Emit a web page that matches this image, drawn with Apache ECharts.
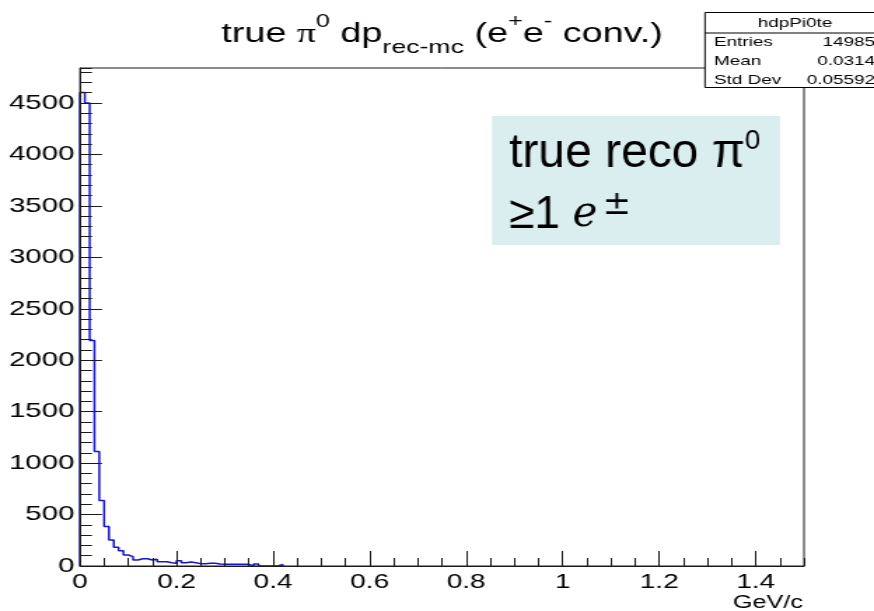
<!DOCTYPE html>
<html>
<head>
<meta charset="utf-8">
<script src="https://cdn.jsdelivr.net/npm/echarts@6/dist/echarts.min.js"></script>
<style>
  html, body { margin: 0; padding: 0; background: #fff; overflow: hidden; }
  #wrap { width: 874px; height: 611px; overflow: hidden; position: relative; }
  /* the canvas is drawn narrow and widened, giving the wide ROOT-style lettering */
  #chart { width: 624px; height: 611px; transform: scaleX(1.400641); transform-origin: 0 0; }
</style>
</head>
<body>
<div id="wrap"><div id="chart"></div></div>
<script>
// histogram hdpPi0te: counts per 0.01 GeV/c bin, starting at 0
const binWidth = 0.01;
const binCounts = [
  4603, 4499, 2191, 1113, 636, 383, 253, 182, 149, 107,
  91, 58, 71, 71, 58, 66, 42, 42, 32, 26,
  52, 32, 39, 32, 23, 23, 26, 26, 20, 16,
  16, 16, 16, 16, 16, 0, 20, 0, 0, 0,
  0, 15
];
const xRange = [0, 1.5];
const yRange = [0, 4840];
const xTickValues = [0, 0.2, 0.4, 0.6, 0.8, 1, 1.2, 1.4];
const yTickValues = [0, 500, 1000, 1500, 2000, 2500, 3000, 3500, 4000, 4500];
const statLabels = ['Entries', 'Mean', 'Std Dev'];
const statValues = ['14985', '0.0314', '0.05592'];
const histName = 'hdpPi0te';

const SX = 874 / 624;            // horizontal widening of the canvas
const sx = v => v / SX;          // page x -> canvas x
const SANS = '"Liberation Sans", Arial, Helvetica, sans-serif';
const SERIF = '"Liberation Serif", "DejaVu Serif", serif';
const MATH = '"DejaVu Serif", "Liberation Serif", serif';

// step outline points: left bin edges, closed back down to zero after the last bin
const histPoints = [[0, 0]];
binCounts.forEach((c, i) => histPoints.push([+(i * binWidth).toFixed(4), c]));
histPoints.push([+(binCounts.length * binWidth).toFixed(4), 0]);

const chart = echarts.init(document.getElementById('chart'));

const axisColor = '#1a1a1a';

chart.setOption({
  animation: false,
  backgroundColor: '#fff',
  grid: {
    left: sx(80), right: 624 - sx(804), top: 68, bottom: 45,
    show: true, borderColor: axisColor, borderWidth: 1, backgroundColor: '#fff'
  },
  xAxis: [
    {
      type: 'value', position: 'bottom', min: xRange[0], max: xRange[1], interval: 0.2, z: 5,
      axisLine: { show: true, lineStyle: { color: axisColor, width: 1.2 } },
      axisTick: { show: true, inside: true, length: 15, customValues: xTickValues,
                  lineStyle: { color: axisColor, width: 1 } },
      axisLabel: { show: true, customValues: xTickValues, margin: 6,
                   formatter: v => String(v),
                   color: '#000', fontSize: 20, fontFamily: SANS },
      splitLine: { show: false }
    },
    {
      type: 'value', position: 'bottom', min: xRange[0], max: xRange[1], interval: 0.05, z: 5,
      axisLine: { show: false },
      axisTick: { show: true, inside: true, length: 8, lineStyle: { color: axisColor, width: 1 } },
      axisLabel: { show: false },
      splitLine: { show: false }
    }
  ],
  yAxis: [
    {
      type: 'value', position: 'left', min: yRange[0], max: yRange[1], interval: 500, z: 5,
      axisLine: { show: true, lineStyle: { color: axisColor, width: 1 } },
      axisTick: { show: true, inside: true, length: sx(22), customValues: yTickValues,
                  lineStyle: { color: axisColor, width: 1 } },
      axisLabel: { show: true, customValues: yTickValues, margin: 4,
                   formatter: v => String(v),
                   color: '#000', fontSize: 21, fontFamily: SANS },
      splitLine: { show: false }
    },
    {
      type: 'value', position: 'left', min: yRange[0], max: yRange[1], interval: 100, z: 5,
      axisLine: { show: false },
      axisTick: { show: true, inside: true, length: sx(12), lineStyle: { color: axisColor, width: 1 } },
      axisLabel: { show: false },
      splitLine: { show: false }
    }
  ],
  series: [{
    type: 'line',
    xAxisIndex: 0, yAxisIndex: 0,
    step: 'end',
    showSymbol: false,
    clip: true,
    z: 3,
    lineStyle: { color: '#1717c4', width: 1.5 },
    data: histPoints
  }],
  graphic: [
    // title
    {
      type: 'text', x: sx(442), y: 35, z: 50,
      style: {
        text: '{n|true }{g|π}{p|0}{n| dp}{b|rec-mc}{n| (e}{p|+}{n|e}{p|-}{n| conv.)}',
        align: 'center', verticalAlign: 'middle', fill: '#000',
        rich: {
          n: { fontSize: 27, lineHeight: 44, fontFamily: SANS, fill: '#000' },
          g: { fontSize: 27, lineHeight: 44, fontFamily: SERIF, fill: '#000' },
          p: { fontSize: 18, lineHeight: 28, verticalAlign: 'top', fontFamily: SANS, fill: '#000' },
          b: { fontSize: 19, lineHeight: 16, verticalAlign: 'bottom', fontFamily: SANS, fill: '#000' }
        }
      }
    },
    // x axis unit
    {
      type: 'text', x: sx(803), y: 603, z: 50,
      style: { text: 'GeV/c', align: 'right', verticalAlign: 'middle',
               fontSize: 18, fontFamily: SANS, fill: '#000' }
    },
    // statistics box
    {
      type: 'group', z: 60,
      children: [
        { type: 'rect', z: 60, shape: { x: sx(705), y: 12.5, width: 140, height: 75 },
          style: { fill: '#fff', stroke: '#000', lineWidth: 1 } },
        { type: 'line', z: 61, shape: { x1: sx(705), y1: 33, x2: 640, y2: 33 },
          style: { stroke: '#000', lineWidth: 1 } },
        { type: 'text', z: 61, x: sx(795), y: 22.8,
          style: { text: histName, align: 'center', verticalAlign: 'middle',
                   fontSize: 13.5, fontFamily: SANS, fill: '#000' } }
      ].concat(statLabels.map((t, i) => ({
        type: 'text', z: 61, x: sx(714), y: 42.5 + i * 19,
        style: { text: t, align: 'left', verticalAlign: 'middle',
                 fontSize: 13.5, fontFamily: SANS, fill: '#000' }
      }))).concat(statValues.map((t, i) => ({
        type: 'text', z: 61, x: sx(875), y: 42.5 + i * 19,
        style: { text: t, align: 'right', verticalAlign: 'middle',
                 fontSize: 13.5, fontFamily: SANS, fill: '#000' }
      })))
    },
    // annotation panel, drawn at natural width
    {
      type: 'group', x: sx(492), y: 116, scaleX: 1 / SX, z: 70,
      children: [
        { type: 'rect', z: 70, shape: { x: 0, y: 0, width: 288, height: 129 },
          style: { fill: '#daedef' } },
        { type: 'text', z: 71, x: 17, y: 38,
          style: {
            text: '{a|true reco π}{s|0}', align: 'left', verticalAlign: 'middle',
            rich: {
              a: { fontSize: 48, lineHeight: 54, fontFamily: SANS, fill: '#000' },
              s: { fontSize: 28, lineHeight: 42, verticalAlign: 'top', fontFamily: SANS, fill: '#000' }
            }
          } },
        { type: 'text', z: 71, x: 17, y: 99,
          style: {
            text: '{a|≥1 }{e|e}{s|±}', align: 'left', verticalAlign: 'middle',
            rich: {
              a: { fontSize: 46, lineHeight: 54, fontFamily: SANS, fill: '#000' },
              e: { fontSize: 42, lineHeight: 54, fontFamily: MATH, fontStyle: 'italic', fill: '#000' },
              s: { fontSize: 34, lineHeight: 36, verticalAlign: 'top', fontFamily: MATH,
                   padding: [0, 0, 0, 5], fill: '#000' }
            }
          } }
      ]
    }
  ]
});
</script>
</body>
</html>
